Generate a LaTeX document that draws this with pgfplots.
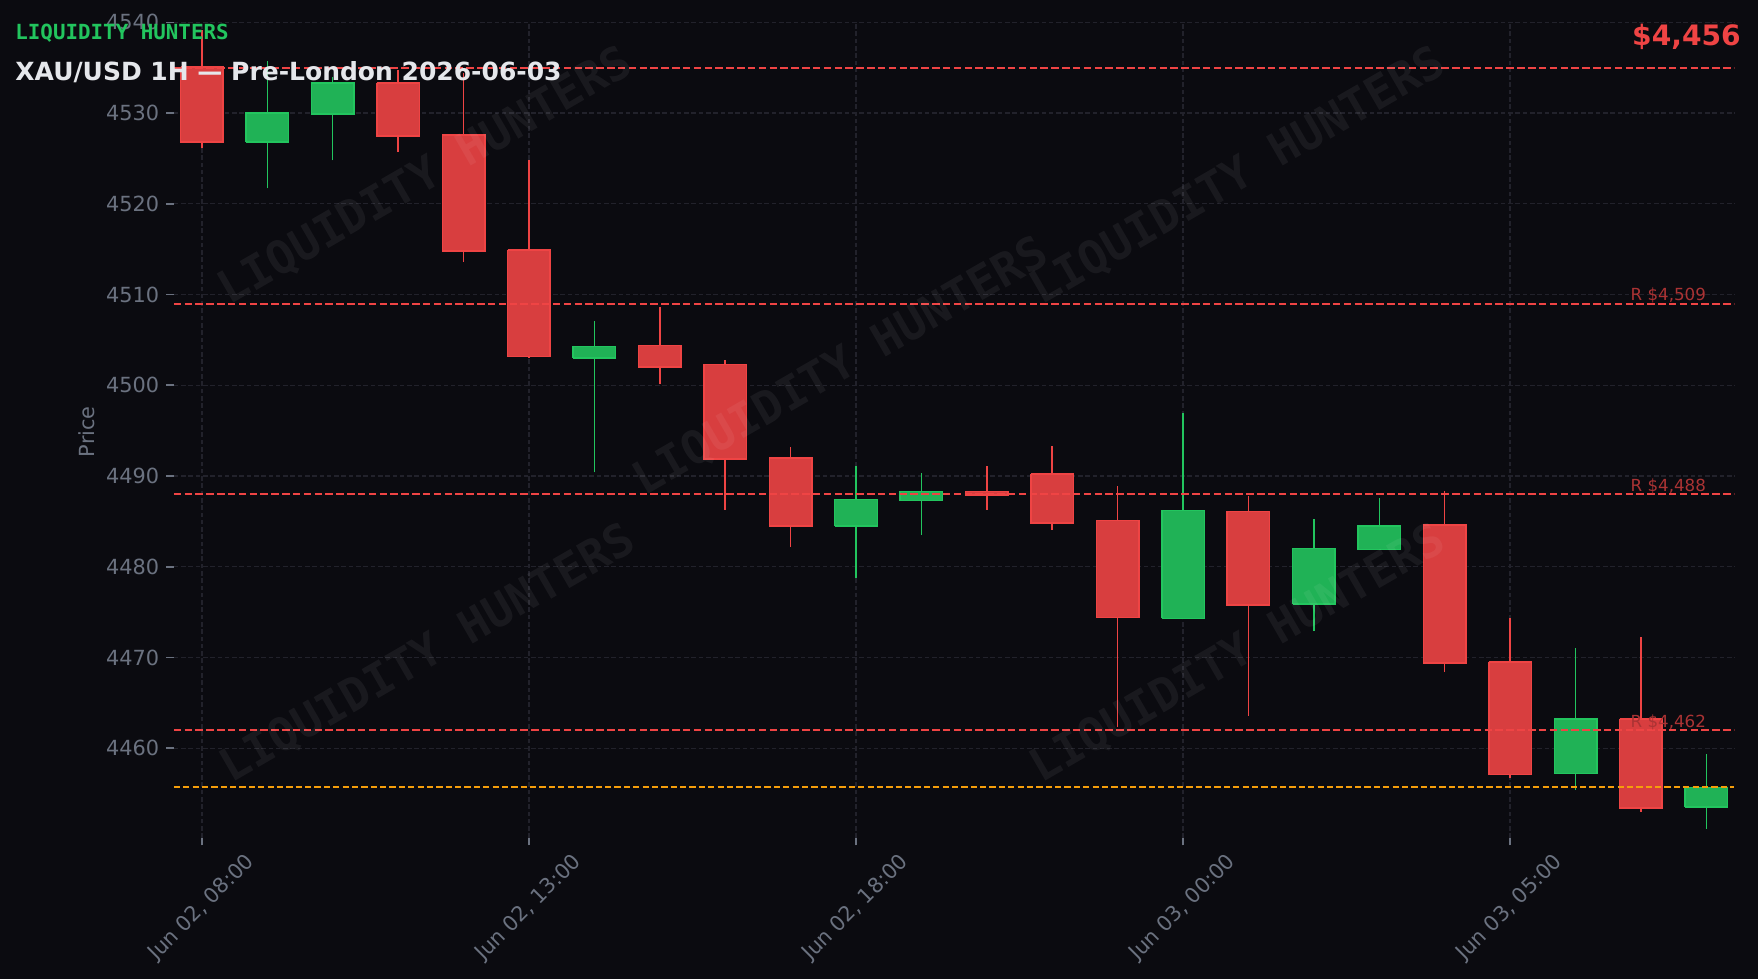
\documentclass[border=0pt]{standalone}
\usepackage{fontspec}
\setmainfont{DejaVu Sans}
\newfontfamily\monofont{DejaVu Sans Mono}
\usepackage{pgfplots}
\pgfplotsset{compat=1.18}
\definecolor{bgc}{HTML}{0B0B10}
\definecolor{tickgray}{HTML}{6B7280}
\definecolor{gridc}{HTML}{22222B}
\definecolor{upc}{HTML}{22C55E}
\definecolor{upf}{HTML}{20B256}
\definecolor{dnc}{HTML}{EF4444}
\definecolor{dnf}{HTML}{D83E3F}
\definecolor{orng}{HTML}{F59E0B}
\definecolor{titlec}{HTML}{E5E7EB}
\definecolor{rlab}{HTML}{AB3334}
\begin{document}
\begin{tikzpicture}
\fill[bgc] (-83.4pt,-67.7pt) rectangle (760.4pt,402.25pt);
\begin{axis}[
  name=ax, at={(0,0)}, anchor=south west, scale only axis,
  width=749.1pt, height=391.5pt,
  xmin=-0.43, xmax=23.43, ymin=4450.1, ymax=4540,
  axis line style={draw=none},
  xtick={0,5,10,15,20},
  xticklabels={{Jun 02, 08:00},{Jun 02, 13:00},{Jun 02, 18:00},{Jun 03, 00:00},{Jun 03, 05:00}},
  ytick={4460,4470,4480,4490,4500,4510,4520,4530,4540},
  tick align=outside, xtick pos=left, ytick pos=left,
  major tick length=3.5pt,
  tick style={color=tickgray, line width=0.8pt},
  grid=major,
  major grid style={color=gridc, line width=0.6pt, dash pattern=on 2.2pt off 1.3pt},
  ticklabel style={font=\fontsize{10}{12}\selectfont, text=tickgray},
  /pgf/number format/assume math mode=true,
  /pgf/number format/1000 sep={},
  xticklabel style={yshift=-30pt, rotate=45, anchor=center},
  clip=true,
]
% wicks
\addplot[dnc, line width=0.75pt] coordinates {(0,4526.1) (0,4539.2)};
\addplot[upc, line width=0.75pt] coordinates {(1,4521.7) (1,4535.7)};
\addplot[upc, line width=0.75pt] coordinates {(2,4524.8) (2,4534.0)};
\addplot[dnc, line width=0.75pt] coordinates {(3,4525.7) (3,4534.8)};
\addplot[dnc, line width=0.75pt] coordinates {(4,4513.6) (4,4534.4)};
\addplot[dnc, line width=0.75pt] coordinates {(5,4503.0) (5,4524.8)};
\addplot[upc, line width=0.75pt] coordinates {(6,4490.4) (6,4507.1)};
\addplot[dnc, line width=0.75pt] coordinates {(7,4500.1) (7,4508.6)};
\addplot[dnc, line width=0.75pt] coordinates {(8,4486.3) (8,4502.8)};
\addplot[dnc, line width=0.75pt] coordinates {(9,4482.2) (9,4493.2)};
\addplot[upc, line width=0.75pt] coordinates {(10,4478.8) (10,4491.1)};
\addplot[upc, line width=0.75pt] coordinates {(11,4483.5) (11,4490.3)};
\addplot[dnc, line width=0.75pt] coordinates {(12,4486.3) (12,4491.1)};
\addplot[dnc, line width=0.75pt] coordinates {(13,4484.1) (13,4493.3)};
\addplot[dnc, line width=0.75pt] coordinates {(14,4462.3) (14,4488.9)};
\addplot[upc, line width=0.75pt] coordinates {(15,4474.2) (15,4496.9)};
\addplot[dnc, line width=0.75pt] coordinates {(16,4463.6) (16,4487.8)};
\addplot[upc, line width=0.75pt] coordinates {(17,4472.9) (17,4485.3)};
\addplot[upc, line width=0.75pt] coordinates {(18,4481.8) (18,4487.6)};
\addplot[dnc, line width=0.75pt] coordinates {(19,4468.4) (19,4488.4)};
\addplot[dnc, line width=0.75pt] coordinates {(20,4456.7) (20,4474.4)};
\addplot[upc, line width=0.75pt] coordinates {(21,4455.4) (21,4471.0)};
\addplot[dnc, line width=0.75pt] coordinates {(22,4453.0) (22,4472.3)};
\addplot[upc, line width=0.75pt] coordinates {(23,4451.1) (23,4459.4)};
% bodies (open, close)
\addplot[draw=dnc, fill=dnf, line width=0.7pt] coordinates {(-0.325,4535.1) (0.325,4535.1) (0.325,4526.8) (-0.325,4526.8) (-0.325,4535.1)};
\addplot[draw=upc, fill=upf, line width=0.7pt] coordinates {(0.675,4526.8) (1.325,4526.8) (1.325,4530.0) (0.675,4530.0) (0.675,4526.8)};
\addplot[draw=upc, fill=upf, line width=0.7pt] coordinates {(1.675,4529.9) (2.325,4529.9) (2.325,4533.3) (1.675,4533.3) (1.675,4529.9)};
\addplot[draw=dnc, fill=dnf, line width=0.7pt] coordinates {(2.675,4533.3) (3.325,4533.3) (3.325,4527.5) (2.675,4527.5) (2.675,4533.3)};
\addplot[draw=dnc, fill=dnf, line width=0.7pt] coordinates {(3.675,4527.6) (4.325,4527.6) (4.325,4514.8) (3.675,4514.8) (3.675,4527.6)};
\addplot[draw=dnc, fill=dnf, line width=0.7pt] coordinates {(4.675,4514.9) (5.325,4514.9) (5.325,4503.2) (4.675,4503.2) (4.675,4514.9)};
\addplot[draw=upc, fill=upf, line width=0.7pt] coordinates {(5.675,4503.0) (6.325,4503.0) (6.325,4504.3) (5.675,4504.3) (5.675,4503.0)};
\addplot[draw=dnc, fill=dnf, line width=0.7pt] coordinates {(6.675,4504.4) (7.325,4504.4) (7.325,4502.0) (6.675,4502.0) (6.675,4504.4)};
\addplot[draw=dnc, fill=dnf, line width=0.7pt] coordinates {(7.675,4502.3) (8.325,4502.3) (8.325,4491.9) (7.675,4491.9) (7.675,4502.3)};
\addplot[draw=dnc, fill=dnf, line width=0.7pt] coordinates {(8.675,4492.0) (9.325,4492.0) (9.325,4484.5) (8.675,4484.5) (8.675,4492.0)};
\addplot[draw=upc, fill=upf, line width=0.7pt] coordinates {(9.675,4484.5) (10.325,4484.5) (10.325,4487.4) (9.675,4487.4) (9.675,4484.5)};
\addplot[draw=upc, fill=upf, line width=0.7pt] coordinates {(10.675,4487.3) (11.325,4487.3) (11.325,4488.3) (10.675,4488.3) (10.675,4487.3)};
\addplot[draw=dnc, fill=dnf, line width=0.7pt] coordinates {(11.675,4488.3) (12.325,4488.3) (12.325,4487.9) (11.675,4487.9) (11.675,4488.3)};
\addplot[draw=dnc, fill=dnf, line width=0.7pt] coordinates {(12.675,4490.2) (13.325,4490.2) (13.325,4484.8) (12.675,4484.8) (12.675,4490.2)};
\addplot[draw=dnc, fill=dnf, line width=0.7pt] coordinates {(13.675,4485.1) (14.325,4485.1) (14.325,4474.4) (13.675,4474.4) (13.675,4485.1)};
\addplot[draw=upc, fill=upf, line width=0.7pt] coordinates {(14.675,4474.3) (15.325,4474.3) (15.325,4486.2) (14.675,4486.2) (14.675,4474.3)};
\addplot[draw=dnc, fill=dnf, line width=0.7pt] coordinates {(15.675,4486.1) (16.325,4486.1) (16.325,4475.8) (15.675,4475.8) (15.675,4486.1)};
\addplot[draw=upc, fill=upf, line width=0.7pt] coordinates {(16.675,4475.9) (17.325,4475.9) (17.325,4482.0) (16.675,4482.0) (16.675,4475.9)};
\addplot[draw=upc, fill=upf, line width=0.7pt] coordinates {(17.675,4481.9) (18.325,4481.9) (18.325,4484.5) (17.675,4484.5) (17.675,4481.9)};
\addplot[draw=dnc, fill=dnf, line width=0.7pt] coordinates {(18.675,4484.6) (19.325,4484.6) (19.325,4469.4) (18.675,4469.4) (18.675,4484.6)};
\addplot[draw=dnc, fill=dnf, line width=0.7pt] coordinates {(19.675,4469.5) (20.325,4469.5) (20.325,4457.1) (19.675,4457.1) (19.675,4469.5)};
\addplot[draw=upc, fill=upf, line width=0.7pt] coordinates {(20.675,4457.2) (21.325,4457.2) (21.325,4463.2) (20.675,4463.2) (20.675,4457.2)};
\addplot[draw=dnc, fill=dnf, line width=0.7pt] coordinates {(21.675,4463.2) (22.325,4463.2) (22.325,4453.4) (21.675,4453.4) (21.675,4463.2)};
\addplot[draw=upc, fill=upf, line width=0.7pt] coordinates {(22.675,4453.5) (23.325,4453.5) (23.325,4455.7) (22.675,4455.7) (22.675,4453.5)};
% levels
\addplot[dnc, line width=1pt, dash pattern=on 3.6pt off 1.6pt] coordinates {(-0.43,4535) (23.43,4535)};
\addplot[dnc, line width=1pt, dash pattern=on 3.6pt off 1.6pt] coordinates {(-0.43,4509) (23.43,4509)};
\addplot[dnc, line width=1pt, dash pattern=on 3.6pt off 1.6pt] coordinates {(-0.43,4488) (23.43,4488)};
\addplot[dnc, line width=1pt, dash pattern=on 3.6pt off 1.6pt] coordinates {(-0.43,4462) (23.43,4462)};
\addplot[orng, line width=1.1pt, dash pattern=on 3pt off 1.5pt] coordinates {(-0.43,4455.7) (23.43,4455.7)};
\node[anchor=base east, inner sep=0pt, yshift=1.3pt, text=rlab, font=\fontsize{8}{9.6}\selectfont] at (axis cs:23,4509) {R \$4,509};
\node[anchor=base east, inner sep=0pt, yshift=1.3pt, text=rlab, font=\fontsize{8}{9.6}\selectfont] at (axis cs:23,4488) {R \$4,488};
\node[anchor=base east, inner sep=0pt, yshift=1.3pt, text=rlab, font=\fontsize{8}{9.6}\selectfont] at (axis cs:23,4462) {R \$4,462};
\end{axis}
\begin{scope}[every node/.style={inner sep=0pt}]
\foreach \px/\py in {120.9/317.5, 320.2/226.2, 510.8/317.5, 122.0/88.3, 510.8/88.3}{
  \node[rotate=30, text=white, text opacity=0.06, font=\monofont\bfseries\fontsize{22}{26}\selectfont] at (\px pt,\py pt) {LIQUIDITY HUNTERS};
}
\node[anchor=base west, text=upc, font=\monofont\bfseries\fontsize{10}{12}\selectfont] at (-76.2pt,383.4pt) {LIQUIDITY HUNTERS};
\node[anchor=base west, text=titlec, font=\bfseries\fontsize{12}{14}\selectfont] at (-76.2pt,363.5pt) {XAU/USD 1H — Pre-London 2026-06-03};
\node[anchor=base east, text=dnc, font=\bfseries\fontsize{13.5}{16}\selectfont] at (752.3pt,380.3pt) {\$4,456};
\node[rotate=90, text=tickgray, font=\fontsize{10}{12}\selectfont] at (-42pt,195pt) {Price};
\end{scope}
\pgfresetboundingbox
\useasboundingbox (-83.4pt,-67.7pt) rectangle (760.4pt,402.25pt);
\end{tikzpicture}
\end{document}
